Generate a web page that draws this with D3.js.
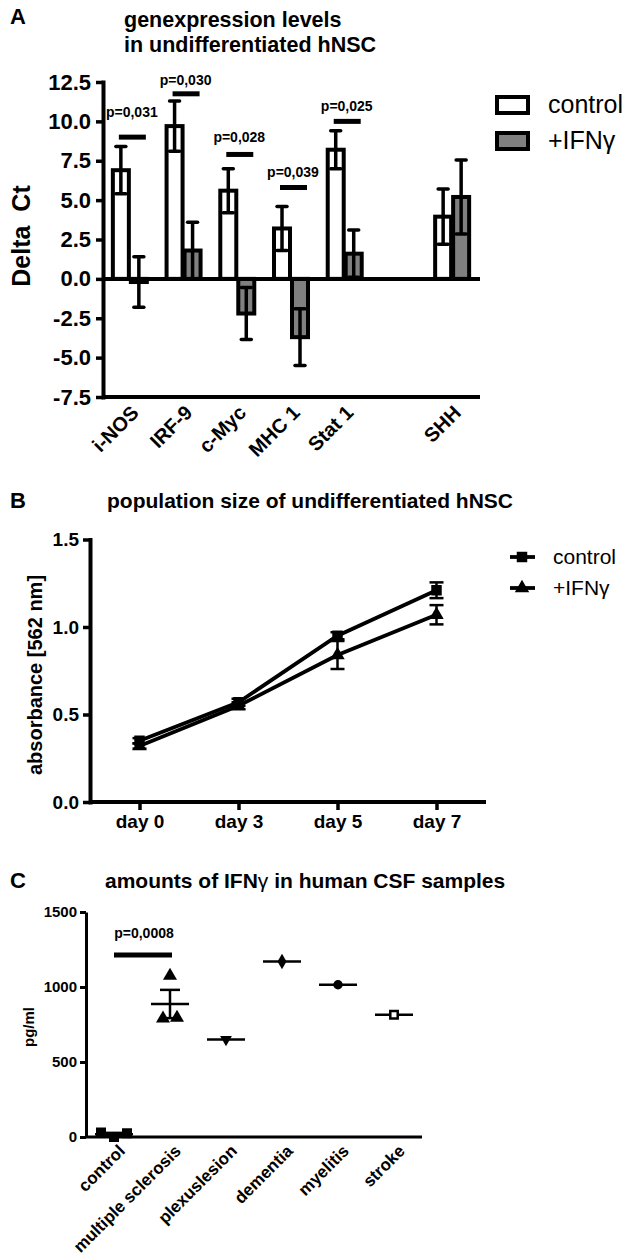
<!DOCTYPE html>
<html><head><meta charset="utf-8">
<script src="https://cdn.jsdelivr.net/npm/d3@7"></script>
<style>
body{margin:0;background:#fff}
svg{display:block}
text{font-family:"Liberation Sans",Arial,Helvetica,sans-serif;fill:#000}
</style>
</head><body>
<svg id="chart" width="630" height="1260"></svg>
<script>
// ---------- Panel A data ----------
const genes = ["i-NOS", "IRF-9", "c-Myc", "MHC 1", "Stat 1", "", "SHH"];
const controlMean = [6.9, 9.7, 5.6, 3.2, 8.2, null, 3.95];
const controlErr  = [1.5, 1.6, 1.4, 1.4, 1.2, null, 1.75];
const ifnMean     = [-0.2, 1.8, -2.2, -3.7, 1.6, null, 5.2];
const ifnErr      = [1.6, 1.8, 1.65, 1.8, 1.5, null, 2.35];
const pGenes      = ["i-NOS", "IRF-9", "c-Myc", "MHC 1", "Stat 1"];
const pLabelsA    = ["p=0,031", "p=0,030", "p=0,028", "p=0,039", "p=0,025"];
const pLineLevel  = [9.0, 11.75, 7.9, 5.8, 10.0];
const pTextLevel  = [10.3, 12.3, 8.7, 6.5, 10.65];
const yTicksA     = [-7.5, -5, -2.5, 0, 2.5, 5, 7.5, 10, 12.5];
const seriesA     = ["control", "+IFNγ"];

// ---------- Panel B data ----------
const days        = ["day 0", "day 3", "day 5", "day 7"];
const bControl    = [0.35, 0.57, 0.95, 1.21];
const bControlErr = [0.015, 0.02, 0.02, 0.045];
const bIfn        = [0.32, 0.55, 0.84, 1.07];
const bIfnErr     = [0.015, 0.02, 0.08, 0.055];
const yTicksB     = [0, 0.5, 1.0, 1.5];

// ---------- Panel C data ----------
const groupsC     = ["control", "multiple sclerosis", "plexuslesion", "dementia", "myelitis", "stroke"];
const cControl    = [30, 0, 25];
const cMS         = [1075, 790, 795];
const cPlexus     = [650];
const cDementia   = [1170];
const cMyelitis   = [1015];
const cStroke     = [815];
const yTicksC     = [0, 500, 1000, 1500];
const pLabelC     = "p=0,0008";
const pLevelC     = 1213;

const svg = d3.select("#chart");

// ================= PANEL A =================
const xA = d3.scaleBand().domain(genes).range([103, 479]).paddingInner(0.33).paddingOuter(0.165);
const xA1 = d3.scaleBand().domain(seriesA).range([0, xA.bandwidth()]);
const yA = d3.scaleLinear().domain([-7.5, 12.5]).range([397, 82]);
const A = svg.append("g");

A.append("text").attr("x", 10).attr("y", 24).attr("font-size", 22).attr("font-weight", "bold").text("A");
A.append("text").attr("x", 124).attr("y", 27).attr("font-size", 21.5).attr("font-weight", "bold").text("genexpression levels");
A.append("text").attr("x", 124).attr("y", 52).attr("font-size", 21.5).attr("font-weight", "bold").text("in undifferentiated hNSC");

const yAxA = A.append("g").attr("transform", "translate(103,0)")
  .call(d3.axisLeft(yA).tickValues(yTicksA).tickFormat(d => d.toFixed(1)).tickSize(7).tickPadding(5).tickSizeOuter(0));
yAxA.select(".domain").attr("stroke-width", 4).attr("stroke-linecap", "square");
yAxA.selectAll(".tick line").attr("stroke-width", 3.5);
yAxA.selectAll(".tick text").attr("font-size", 22).attr("font-weight", "bold").attr("font-family", null);

A.append("text").attr("transform", "translate(30,236) rotate(-90)").attr("text-anchor", "middle")
  .attr("font-size", 25).attr("font-weight", "bold").attr("xml:space", "preserve").text("Delta  Ct");

// bars
const barData = [];
genes.forEach((g, i) => {
  if (controlMean[i] !== null) barData.push({g, s: "control", m: controlMean[i], e: controlErr[i]});
  if (ifnMean[i] !== null) barData.push({g, s: "+IFNγ", m: ifnMean[i], e: ifnErr[i]});
});
const fillA = d3.scaleOrdinal().domain(seriesA).range(["#ffffff", "#808080"]);
const barG = A.append("g");
barG.selectAll("rect").data(barData).join("rect")
  .attr("x", d => xA(d.g) + xA1(d.s) + 1)
  .attr("width", xA1.bandwidth() - 2)
  .attr("y", d => Math.min(yA(d.m), yA(0)))
  .attr("height", d => Math.abs(yA(d.m) - yA(0)))
  .attr("fill", d => fillA(d.s)).attr("stroke", "#000").attr("stroke-width", 4);
// error bars
const errG = A.append("g").attr("stroke", "#000").attr("stroke-width", 3.5);
barData.forEach(d => {
  const cx = xA(d.g) + xA1(d.s) + xA1.bandwidth() / 2;
  errG.append("line").attr("x1", cx).attr("x2", cx).attr("y1", yA(d.m - d.e)).attr("y2", yA(d.m + d.e));
  [d.m - d.e, d.m + d.e].forEach(v => errG.append("line").attr("x1", cx - 5).attr("x2", cx + 5).attr("y1", yA(v)).attr("y2", yA(v)).attr("stroke-linecap", "round"));
});
// zero line
A.append("line").attr("x1", 103).attr("x2", 480).attr("y1", yA(0)).attr("y2", yA(0)).attr("stroke", "#000").attr("stroke-width", 4);
// bottom axis with rotated labels
const xAxA = A.append("g").attr("transform", `translate(0,${yA(-7.5)})`)
  .call(d3.axisBottom(xA).tickSize(0).tickSizeOuter(0));
xAxA.select(".domain").attr("stroke-width", 4).attr("d", `M103,0H480`);
xAxA.selectAll(".tick text").attr("font-size", 20).attr("font-weight", "bold").attr("font-family", null)
  .attr("text-anchor", "end").attr("x", 0).attr("y", 0).attr("dy", 0)
  .attr("transform", "translate(10,17) rotate(-45)");
// p-values
pGenes.forEach((g, i) => {
  const c = xA(g) + xA.bandwidth() / 2;
  A.append("line").attr("x1", c - 11).attr("x2", c + 16).attr("y1", yA(pLineLevel[i])).attr("y2", yA(pLineLevel[i]))
    .attr("stroke", "#000").attr("stroke-width", 5);
  A.append("text").attr("x", c + 2).attr("y", yA(pTextLevel[i])).attr("text-anchor", "middle")
    .attr("font-size", 14).attr("font-weight", "bold").text(pLabelsA[i]);
});
// legend A
const legA = A.append("g");
seriesA.forEach((s, i) => {
  legA.append("rect").attr("x", 497).attr("y", 97 + i * 36).attr("width", 31).attr("height", 16)
    .attr("fill", fillA(s)).attr("stroke", "#000").attr("stroke-width", 4);
  legA.append("text").attr("x", 548).attr("y", 113 + i * 36).attr("font-size", 25).text(s);
});

// ================= PANEL B =================
const xB = d3.scalePoint().domain(days).range([90, 486]).padding(0.5);
const yB = d3.scaleLinear().domain([0, 1.5]).range([802, 539.5]);
const B = svg.append("g");
B.append("text").attr("x", 10).attr("y", 508).attr("font-size", 22).attr("font-weight", "bold").text("B");
B.append("text").attr("x", 310).attr("y", 508).attr("text-anchor", "middle").attr("font-size", 21).attr("font-weight", "bold")
  .text("population size of undifferentiated hNSC");

const yAxB = B.append("g").attr("transform", "translate(90,0)")
  .call(d3.axisLeft(yB).tickValues(yTicksB).tickFormat(d => d.toFixed(1)).tickSize(7).tickPadding(4).tickSizeOuter(0));
yAxB.select(".domain").attr("stroke-width", 4).attr("stroke-linecap", "square");
yAxB.selectAll(".tick line").attr("stroke-width", 3.5);
yAxB.selectAll(".tick text").attr("font-size", 19).attr("font-weight", "bold").attr("font-family", null);
const xAxB = B.append("g").attr("transform", "translate(0,802)")
  .call(d3.axisBottom(xB).tickSize(8).tickPadding(5).tickSizeOuter(0));
xAxB.select(".domain").attr("stroke-width", 4).attr("d", "M90,0H486");
xAxB.selectAll(".tick line").attr("stroke-width", 3.5);
xAxB.selectAll(".tick text").attr("font-size", 19).attr("font-weight", "bold").attr("font-family", null);
B.append("text").attr("transform", "translate(42,675) rotate(-90)").attr("text-anchor", "middle")
  .attr("font-size", 20).attr("font-weight", "bold").text("absorbance [562 nm]");

const seriesB = [
  {name: "control", vals: bControl, errs: bControlErr, sym: d3.symbolSquare, size: 110},
  {name: "+IFNγ", vals: bIfn, errs: bIfnErr, sym: d3.symbolTriangle, size: 90}
];
const lineB = d3.line().x((d, i) => xB(days[i])).y(d => yB(d));
seriesB.forEach(s => {
  B.append("path").attr("d", lineB(s.vals)).attr("fill", "none").attr("stroke", "#000").attr("stroke-width", 3.8);
  s.vals.forEach((v, i) => {
    const cx = xB(days[i]);
    const e = s.errs[i];
    B.append("line").attr("x1", cx).attr("x2", cx).attr("y1", yB(v - e)).attr("y2", yB(v + e)).attr("stroke", "#000").attr("stroke-width", 2.5);
    [v - e, v + e].forEach(w => B.append("line").attr("x1", cx - 7).attr("x2", cx + 7).attr("y1", yB(w)).attr("y2", yB(w)).attr("stroke", "#000").attr("stroke-width", 2.5));
    B.append("path").attr("d", d3.symbol(s.sym, s.size)()).attr("transform", `translate(${cx},${yB(v)})`).attr("fill", "#000");
  });
});
seriesB.forEach((s, i) => {
  const ly = 557 + i * 31;
  B.append("line").attr("x1", 510).attr("x2", 535).attr("y1", ly).attr("y2", ly).attr("stroke", "#000").attr("stroke-width", 3.8);
  B.append("path").attr("d", d3.symbol(s.sym, s.size)()).attr("transform", `translate(522,${ly})`).attr("fill", "#000");
  B.append("text").attr("x", 553).attr("y", ly + 7).attr("font-size", 21).text(s.name);
});

// ================= PANEL C =================
const xC = d3.scaleBand().domain(groupsC).range([86, 422]);
const yC = d3.scaleLinear().domain([0, 1500]).range([1137, 912]);
const C = svg.append("g");
C.append("text").attr("x", 10).attr("y", 888).attr("font-size", 22).attr("font-weight", "bold").text("C");
const tC = C.append("text").attr("x", 105).attr("y", 888).attr("font-size", 21).attr("font-weight", "bold");
tC.append("tspan").text("amounts of IFN");
tC.append("tspan").attr("font-weight", "normal").text("γ");
tC.append("tspan").text(" in human CSF samples");

const yAxC = C.append("g").attr("transform", "translate(86,0)")
  .call(d3.axisLeft(yC).tickValues(yTicksC).tickFormat(d3.format("d")).tickSize(6).tickPadding(3).tickSizeOuter(0));
yAxC.select(".domain").attr("stroke-width", 3);
yAxC.selectAll(".tick line").attr("stroke-width", 3);
yAxC.selectAll(".tick text").attr("font-size", 15).attr("font-weight", "bold").attr("font-family", null);
const xAxC = C.append("g").attr("transform", "translate(0,1137)")
  .call(d3.axisBottom(xC).tickSize(0).tickSizeOuter(0));
xAxC.select(".domain").attr("stroke-width", 3).attr("d", "M86,0H422");
xAxC.selectAll(".tick text").attr("font-size", 17).attr("font-weight", "bold").attr("font-family", null)
  .attr("text-anchor", "end").attr("x", 0).attr("y", 0).attr("dy", 0)
  .attr("transform", "translate(12,15) rotate(-45)");
C.append("text").attr("transform", "translate(34,1027) rotate(-90)").attr("text-anchor", "middle")
  .attr("font-size", 15).attr("font-weight", "bold").text("pg/ml");

const groupData = [
  {g: "control", vals: cControl, sym: d3.symbolSquare, size: 100, fill: "#000", rot: 0},
  {g: "multiple sclerosis", vals: cMS, sym: d3.symbolTriangle, size: 85, fill: "#000", rot: 0},
  {g: "plexuslesion", vals: cPlexus, sym: d3.symbolTriangle, size: 60, fill: "#000", rot: 180},
  {g: "dementia", vals: cDementia, sym: d3.symbolDiamond, size: 70, fill: "#000", rot: 0},
  {g: "myelitis", vals: cMyelitis, sym: d3.symbolCircle, size: 70, fill: "#000", rot: 0},
  {g: "stroke", vals: cStroke, sym: d3.symbolSquare, size: 55, fill: "#fff", rot: 0}
];
groupData.forEach(gd => {
  const c = xC(gd.g) + xC.bandwidth() / 2;
  const m = d3.mean(gd.vals);
  // mean line
  C.append("line").attr("x1", c - 19).attr("x2", c + 19).attr("y1", yC(m)).attr("y2", yC(m)).attr("stroke", "#000").attr("stroke-width", 2.5);
  if (gd.vals.length > 1) {
    const sem = d3.deviation(gd.vals) / Math.sqrt(gd.vals.length);
    C.append("line").attr("x1", c).attr("x2", c).attr("y1", yC(m - sem)).attr("y2", yC(m + sem)).attr("stroke", "#000").attr("stroke-width", 2.5);
    [m - sem, m + sem].forEach(v => C.append("line").attr("x1", c - 10).attr("x2", c + 10).attr("y1", yC(v)).attr("y2", yC(v)).attr("stroke", "#000").attr("stroke-width", 2.5));
  }
  // group points whose pixel positions overlap and spread them horizontally (keeping data order)
  const pts = gd.vals.map((v, idx) => ({v, idx, py: yC(v)}));
  const clusters = [];
  pts.forEach(p => {
    const cl = clusters.find(cl => cl.some(q => Math.abs(q.py - p.py) < 10));
    if (cl) cl.push(p); else clusters.push([p]);
  });
  clusters.forEach(cl => {
    const step = cl.length > 2 ? 13 : 14;
    cl.forEach((p, k) => {
      const px = c + (k - (cl.length - 1) / 2) * step;
      C.append("path").attr("d", d3.symbol(gd.sym, gd.size)())
        .attr("transform", `translate(${px},${p.py}) rotate(${gd.rot})`)
        .attr("fill", gd.fill).attr("stroke", "#000").attr("stroke-width", gd.fill === "#fff" ? 2.5 : 0);
    });
  });
});
// p-value bracket
const c0 = xC("control") + xC.bandwidth() / 2, c1 = xC("multiple sclerosis") + xC.bandwidth() / 2;
C.append("line").attr("x1", c0).attr("x2", c1 + 2).attr("y1", yC(pLevelC)).attr("y2", yC(pLevelC)).attr("stroke", "#000").attr("stroke-width", 5);
C.append("text").attr("x", (c0 + c1) / 2 + 2).attr("y", yC(pLevelC) - 17).attr("text-anchor", "middle")
  .attr("font-size", 14).attr("font-weight", "bold").text(pLabelC);
</script>
</body></html>
